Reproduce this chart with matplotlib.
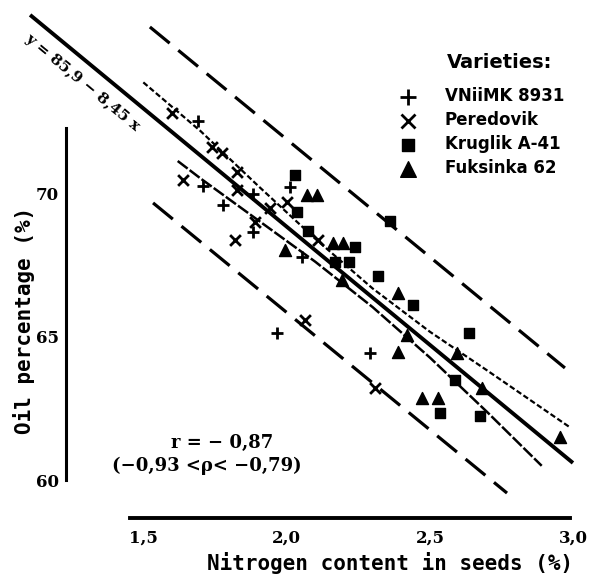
import matplotlib.pyplot as plt

# scatter data (nitrogen %, oil %)
vniimk_x = [1.691, 1.708, 1.778, 1.883, 1.883, 2.012, 2.054, 1.967, 2.291]
vniimk_y = [72.53, 70.26, 69.60, 69.98, 68.66, 70.23, 67.79, 65.14, 64.44]

peredovik_x = [1.600, 1.740, 1.775, 1.827, 1.827, 1.639, 1.942, 2.001, 2.110,
               1.890, 1.820, 2.064, 2.309]
peredovik_y = [72.80, 71.62, 71.41, 70.75, 70.12, 70.47, 69.49, 69.70, 68.38,
               69.01, 68.38, 65.59, 63.22]

kruglik_x = [2.029, 2.036, 2.074, 2.238, 2.169, 2.218, 2.361, 2.319, 2.441,
             2.637, 2.588, 2.535, 2.675]
kruglik_y = [70.64, 69.36, 68.69, 68.14, 67.61, 67.61, 69.04, 67.13, 66.11,
             65.14, 63.50, 62.35, 62.25]

fuksinka_x = [2.071, 2.106, 1.994, 2.162, 2.197, 2.193, 2.389, 2.420, 2.389,
              2.595, 2.682, 2.472, 2.528, 2.954]
fuksinka_y = [69.95, 69.95, 68.03, 68.28, 68.28, 66.99, 66.53, 65.07, 64.48,
              64.44, 63.22, 62.87, 62.87, 61.52]

# regression line and bands
reg_x = [1.105, 2.999]
reg_y = [76.22, 60.61]
conf_up_x = [1.50, 1.70, 1.90, 2.10, 2.30, 2.50, 2.70, 2.99]
conf_up_y = [73.87, 72.17, 70.27, 68.42, 66.69, 65.18, 63.83, 61.84]
conf_lo_x = [1.62, 1.70, 1.90, 2.10, 2.30, 2.50, 2.70, 2.89]
conf_lo_y = [71.13, 70.52, 69.07, 67.62, 66.04, 64.28, 62.38, 60.51]
pred_up_x = [1.523, 2.971]
pred_up_y = [75.80, 63.92]
pred_lo_x = [1.534, 2.769]
pred_lo_y = [69.67, 59.56]

xticks = [1.5, 2.0, 2.5, 3.0]
xticklabels = ['1,5', '2,0', '2,5', '3,0']
yticks = [60, 65, 70]

W, H = 591, 574
fig = plt.figure(figsize=(W / 100, H / 100), dpi=100)
ax = fig.add_axes([0, 0, 1, 1])
ax.set_xlim(1.0, 3.062)
ax.set_ylim(56.74, 76.74)

k = 'black'
ax.plot(reg_x, reg_y, color=k, lw=2.8, solid_capstyle='butt')
ax.plot(conf_up_x, conf_up_y, color=k, lw=1.6, dashes=(2.5, 1.2))
ax.plot(conf_lo_x, conf_lo_y, color=k, lw=1.8, dashes=(5, 1))
ax.plot(pred_up_x, pred_up_y, color=k, lw=2.3, dashes=(8, 3.5))
ax.plot(pred_lo_x, pred_lo_y, color=k, lw=2.3, dashes=(8, 3.5))

h1 = ax.scatter(vniimk_x, vniimk_y, marker='+', s=85, lw=2, color=k, label='VNiiMK 8931')
h2 = ax.scatter(peredovik_x, peredovik_y, marker='x', s=60, lw=2, color=k, label='Peredovik')
h3 = ax.scatter(kruglik_x, kruglik_y, marker='s', s=48, color=k, label='Kruglik A-41')
h4 = ax.scatter(fuksinka_x, fuksinka_y, marker='^', s=75, color=k, label='Fuksinka 62')

for s in ['top', 'right']:
    ax.spines[s].set_visible(False)
ax.spines['left'].set_position(('data', 1.23))
ax.spines['left'].set_bounds(60, 72.28)
ax.spines['left'].set_linewidth(2.2)
ax.spines['bottom'].set_position(('data', 58.69))
ax.spines['bottom'].set_bounds(1.454, 2.99)
ax.spines['bottom'].set_linewidth(2.8)

ax.set_xticks(xticks)
ax.set_xticklabels(xticklabels)
ax.set_yticks(yticks)
ax.tick_params(length=0)
ax.tick_params(axis='x', pad=8)
ax.tick_params(axis='y', pad=5)
for lab in ax.get_xticklabels() + ax.get_yticklabels():
    lab.set_fontfamily('DejaVu Serif')
    lab.set_fontweight('bold')
    lab.set_fontsize(12)

mono = ['DejaVu Sans Mono']
ax.text(390 / W, 1 - 563 / H, 'Nitrogen content in seeds (%)', transform=ax.transAxes,
        ha='center', va='center', fontsize=15, fontweight='bold', family=mono)
ax.text(24 / W, 1 - 320 / H, 'Oil percentage (%)', transform=ax.transAxes,
        ha='center', va='center', rotation=90, fontsize=15, fontweight='bold', family=mono)

serif = ['DejaVu Serif']
ax.text(222 / W, 1 - 443 / H, 'r = − 0,87', transform=ax.transAxes,
        ha='center', va='center', fontsize=13, fontweight='bold', family=serif)
ax.text(207 / W, 1 - 466 / H, '(−0,93 <ρ< −0,79)', transform=ax.transAxes,
        ha='center', va='center', fontsize=13, fontweight='bold', family=serif)
ax.text(82 / W, 1 - 82 / H, 'y = 85,9 − 8,45 x', transform=ax.transAxes,
        ha='center', va='center', rotation=-39.5, rotation_mode='anchor',
        fontsize=11, fontweight='bold', family=serif)

sans = ['DejaVu Sans']
ax.text(447 / W, 1 - 62 / H, 'Varieties:', transform=ax.transAxes,
        ha='left', va='center', fontsize=14, fontweight='bold', family=sans)
leg = ax.legend(handles=[h1, h2, h3, h4], loc='upper left',
                bbox_to_anchor=(398 / W, 1 - 87 / H), frameon=False,
                borderpad=0, borderaxespad=0, handlelength=1.2,
                handletextpad=1.6, labelspacing=0.36, markerscale=1.3,
                prop={'family': sans, 'weight': 'bold', 'size': 12})

fig.savefig('out.png', dpi=100)
